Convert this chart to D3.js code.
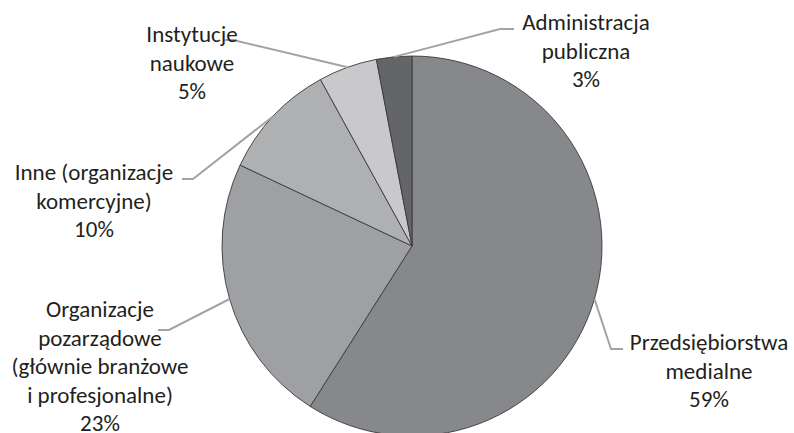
<!DOCTYPE html>
<html>
<head>
<meta charset="utf-8">
<script src="https://cdn.jsdelivr.net/npm/d3@7"></script>
<style>
  html, body { margin: 0; padding: 0; background: #fff; }
  svg { display: block; }
  text { font-family: Carlito, "Open Sans", sans-serif; fill: #231f20; }
</style>
</head>
<body>
<svg id="chart" width="794" height="433"></svg>
<script>
// Categories and shares (%), clockwise from 12 o'clock
const categories = [
  "Przedsiębiorstwa medialne",
  "Organizacje pozarządowe (głównie branżowe i profesjonalne)",
  "Inne (organizacje komercyjne)",
  "Instytucje naukowe",
  "Administracja publiczna"
];
const shares = [59, 23, 10, 5, 3];

// How each label is broken into lines
const labelLines = [
  ["Przedsiębiorstwa", "medialne"],
  ["Organizacje", "pozarządowe", "(głównie branżowe", "i profesjonalne)"],
  ["Inne (organizacje", "komercyjne)"],
  ["Instytucje", "naukowe"],
  ["Administracja", "publiczna"]
];

const sliceColors = ["#87888b", "#9fa0a3", "#afb0b2", "#c9c9cb", "#646569"];

// Label placement: text centre x, first baseline y, leader elbow and end
const labelLayout = [
  { x: 709, y: 350, elbow: [611, 349], end: [623, 349] },
  { x: 100, y: 317, elbow: [169, 330], end: [158, 330] },
  { x: 94,  y: 180, elbow: [193, 179], end: [182, 179] },
  { x: 192, y: 42,  elbow: [233, 40],  end: [225, 40] },
  { x: 586, y: 30,  elbow: [500, 29],  end: [514, 29] }
];

const cx = 412, cy = 246, radius = 190, lineGap = 28.5;

const data = categories.map((c, i) => ({
  name: c, value: shares[i], lines: labelLines[i],
  color: sliceColors[i], layout: labelLayout[i]
}));

const svg = d3.select("#chart");
const g = svg.append("g").attr("transform", `translate(${cx},${cy})`);

const pie = d3.pie().value(d => d.value).sort(null);
const arc = d3.arc().innerRadius(0).outerRadius(radius);
const edge = d3.arc().innerRadius(radius).outerRadius(radius);

const arcs = pie(data);

g.selectAll("path.slice")
  .data(arcs)
  .join("path")
  .attr("class", "slice")
  .attr("d", arc)
  .attr("fill", d => d.data.color)
  .attr("stroke", "#3a3a3a")
  .attr("stroke-width", 0.9)
  .attr("stroke-linejoin", "round");

// Leader lines from the slice's mid-angle on the rim to the label
svg.selectAll("polyline.leader")
  .data(arcs)
  .join("polyline")
  .attr("class", "leader")
  .attr("points", d => {
    const p = edge.centroid(d);
    const L = d.data.layout;
    return [[p[0] + cx, p[1] + cy], L.elbow, L.end].map(q => q.join(",")).join(" ");
  })
  .attr("fill", "none")
  .attr("stroke", "#a3a3a3")
  .attr("stroke-width", 2);

const labels = svg.selectAll("text.label")
  .data(arcs)
  .join("text")
  .attr("class", "label")
  .attr("text-anchor", "middle")
  .attr("font-size", 23);

labels.each(function(d) {
  const t = d3.select(this);
  const L = d.data.layout;
  const rows = d.data.lines.concat([d.data.value + "%"]);
  rows.forEach((r, i) => {
    t.append("tspan")
      .attr("x", L.x)
      .attr("y", L.y + i * lineGap)
      .text(r);
  });
});
</script>
</body>
</html>
